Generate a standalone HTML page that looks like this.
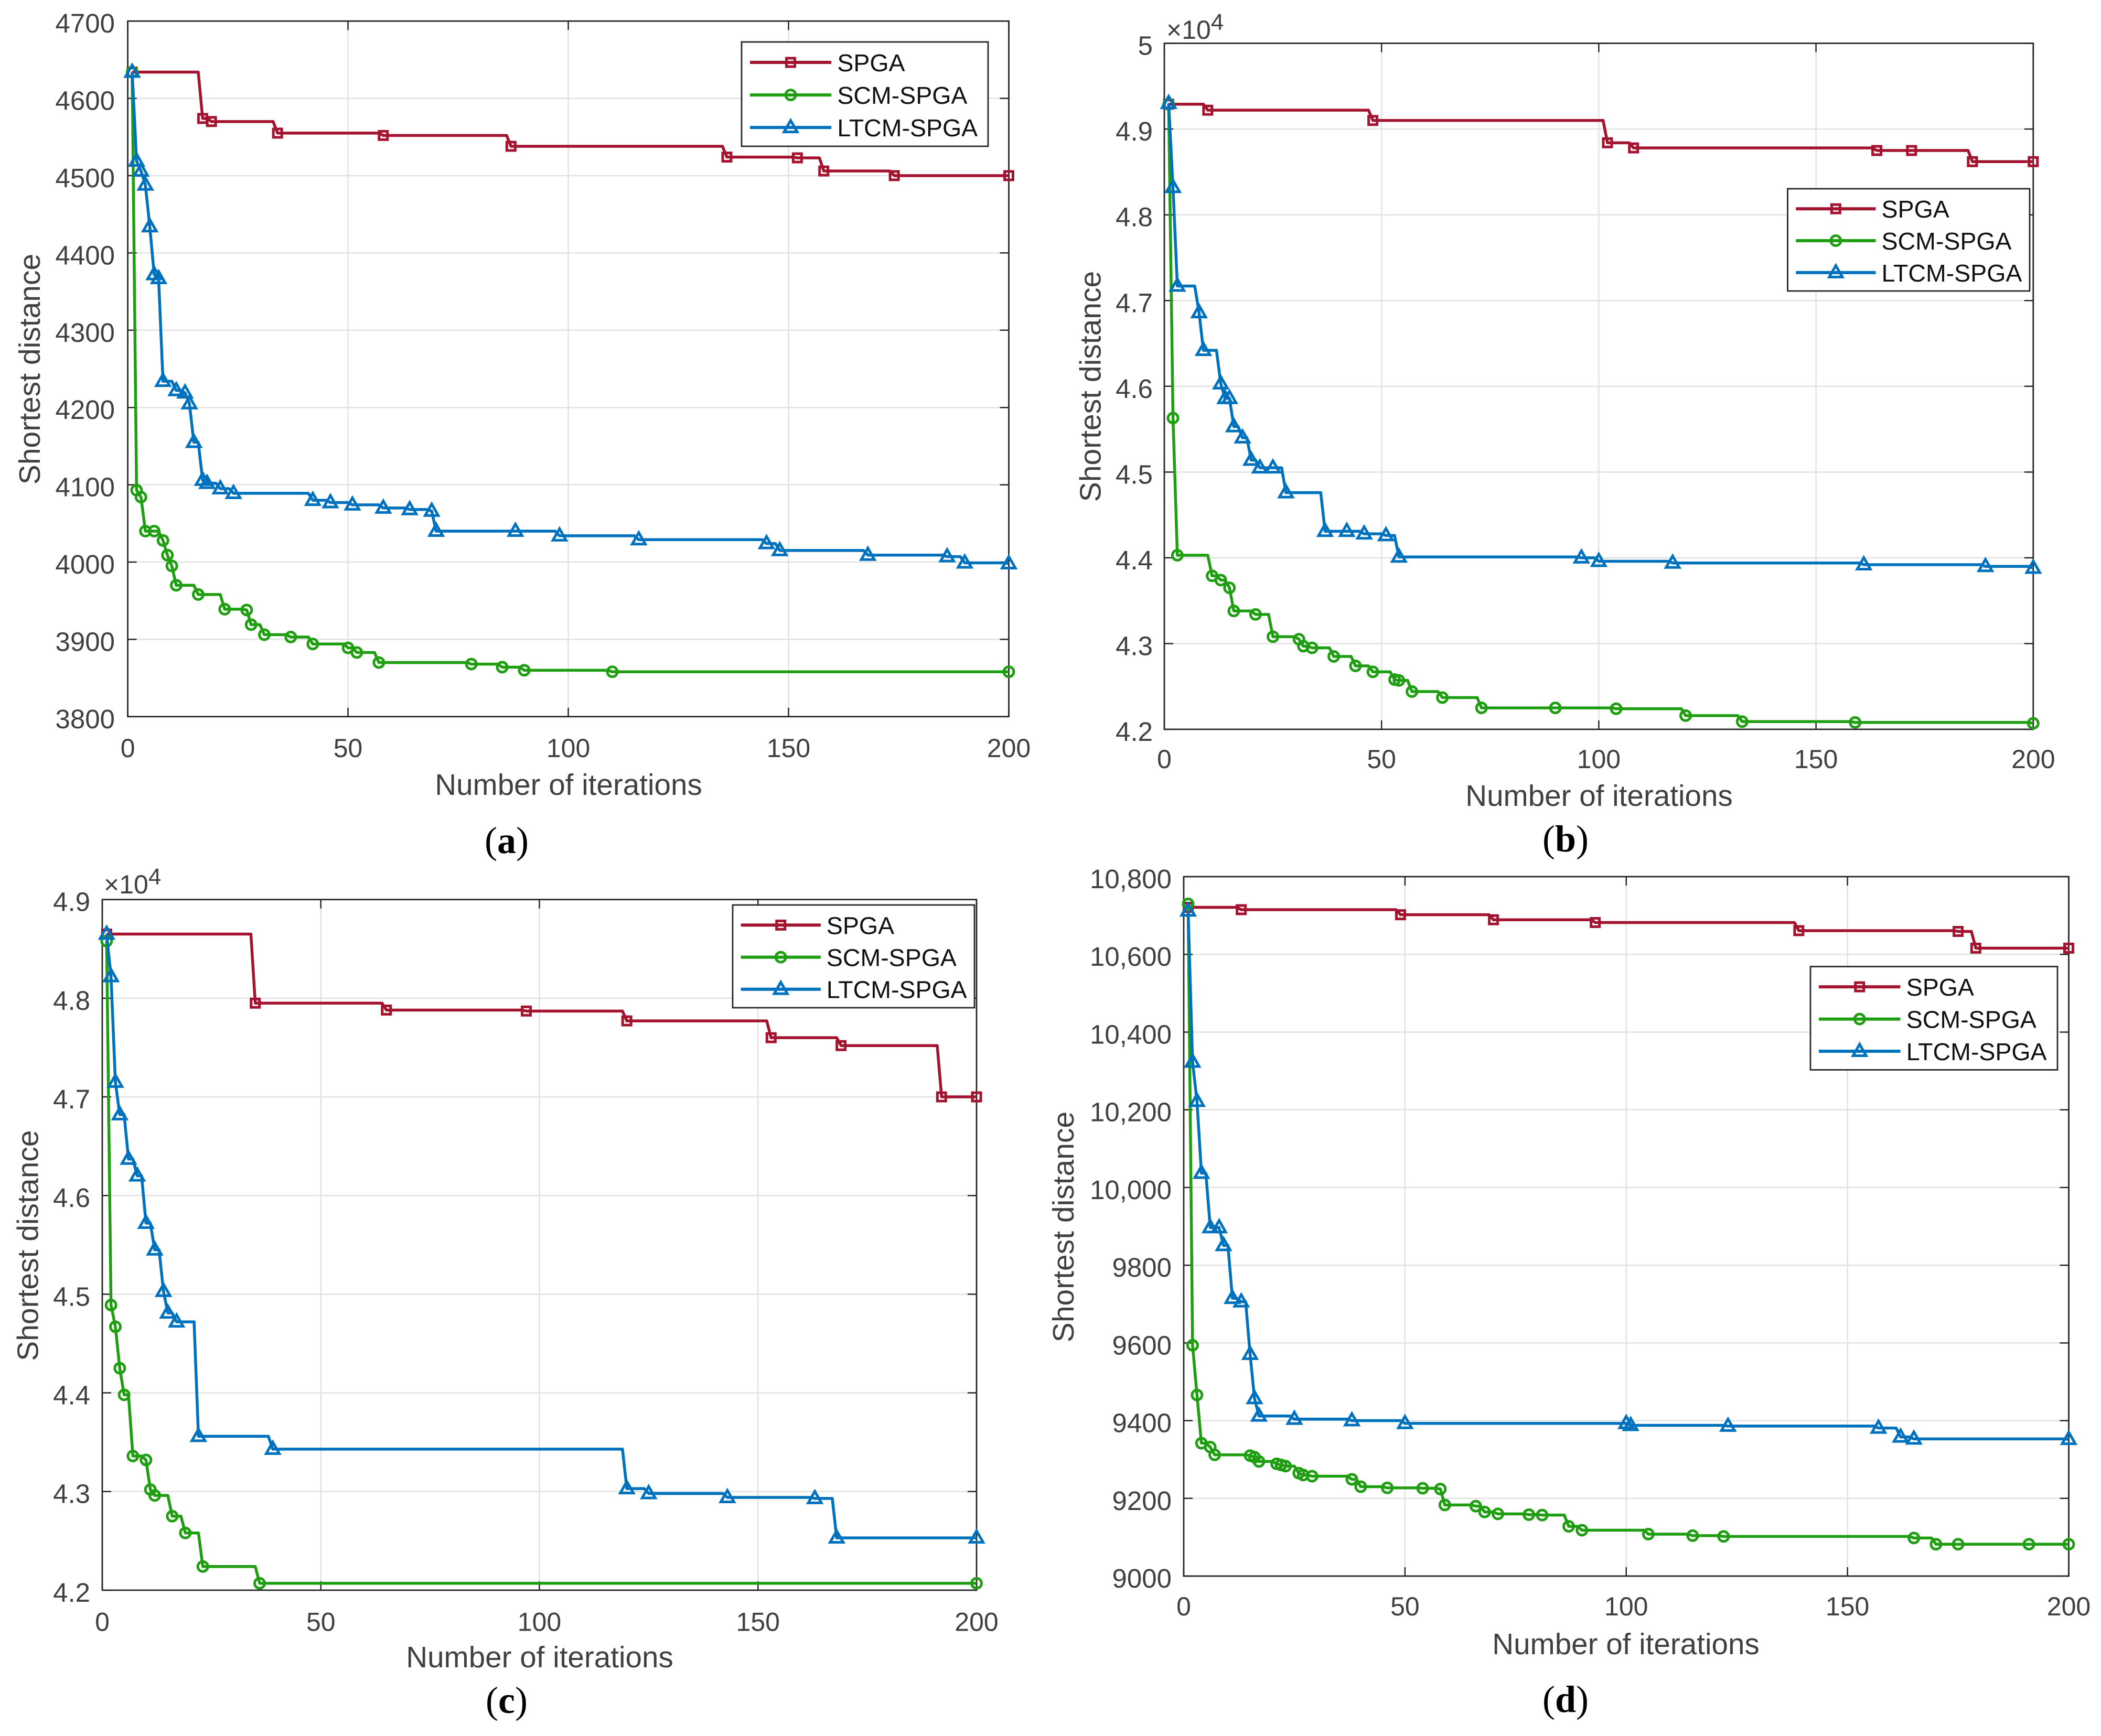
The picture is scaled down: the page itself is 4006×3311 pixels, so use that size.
<!DOCTYPE html>
<html>
<head>
<meta charset="utf-8">
<title>Convergence curves</title>
<style>
html,body{margin:0;padding:0;background:#fff;}
svg{display:block;}
text{font-family:"Liberation Sans",Arial,sans-serif;}
.cap{font-family:"Liberation Serif",serif;}
</style>
</head>
<body>
<svg id="fig" xmlns="http://www.w3.org/2000/svg" width="4006" height="3311" viewBox="0 0 4006 3311"></svg>
<script>
// ---- tick labels ----
const xTicks = [0, 50, 100, 150, 200];
const yTicksA = [3800, 3900, 4000, 4100, 4200, 4300, 4400, 4500, 4600, 4700];
const yTicksB = [4.2, 4.3, 4.4, 4.5, 4.6, 4.7, 4.8, 4.9, 5];
const yTicksC = [4.2, 4.3, 4.4, 4.5, 4.6, 4.7, 4.8, 4.9];
const yTicksD = [9000, 9200, 9400, 9600, 9800, 10000, 10200, 10400, 10600, 10800];
const seriesNames = ['SPGA', 'SCM-SPGA', 'LTCM-SPGA'];

// ---- panel (a) ----
const aSpgaX = [1, 17, 19, 34, 58, 87, 136, 152, 158, 174, 200];
const aSpgaY = [4634, 4574, 4570, 4555, 4552, 4538, 4524, 4523, 4506, 4500, 4500];
const aScmX = [1, 2, 3, 4, 6, 8, 9, 10, 11, 16, 22, 27, 28, 31, 37, 42, 50, 52, 57, 78, 85, 90, 110, 200];
const aScmY = [4634, 4093, 4084, 4040, 4040, 4028, 4009, 3995, 3970, 3958, 3939, 3938, 3919, 3906, 3903, 3894, 3889, 3883, 3870, 3868, 3864, 3860, 3858, 3858];
const aLtcmX = [1, 2, 3, 4, 5, 6, 7, 8, 11, 13, 14, 15, 17, 18, 21, 24, 42, 46, 51, 58, 64, 69, 70, 88, 98, 116, 145, 148, 168, 186, 190, 200];
const aLtcmY = [4634, 4519, 4506, 4488, 4434, 4372, 4367, 4234, 4222, 4219, 4205, 4155, 4106, 4102, 4095, 4089, 4080, 4077, 4074, 4070, 4068, 4066, 4040, 4040, 4034, 4029, 4024, 4015, 4009, 4007, 3999, 3998];

// ---- panel (b) ----
const bSpgaX = [1, 10, 48, 102, 108, 164, 172, 186, 200];
const bSpgaY = [4.929, 4.922, 4.910, 4.884, 4.878, 4.875, 4.875, 4.862, 4.862];
const bScmX = [1, 2, 3, 11, 13, 15, 16, 21, 25, 31, 32, 34, 39, 44, 48, 53, 54, 57, 64, 73, 90, 104, 120, 133, 159, 200];
const bScmY = [4.929, 4.563, 4.403, 4.379, 4.374, 4.365, 4.338, 4.334, 4.308, 4.305, 4.297, 4.295, 4.285, 4.274, 4.267, 4.258, 4.257, 4.244, 4.237, 4.225, 4.225, 4.224, 4.216, 4.209, 4.208, 4.207];
const bLtcmX = [1, 2, 3, 8, 9, 13, 14, 15, 16, 18, 20, 22, 25, 28, 37, 42, 46, 51, 54, 96, 100, 117, 161, 189, 200];
const bLtcmY = [4.93, 4.832, 4.717, 4.686, 4.642, 4.603, 4.586, 4.586, 4.553, 4.540, 4.514, 4.505, 4.505, 4.476, 4.431, 4.431, 4.428, 4.426, 4.401, 4.400, 4.396, 4.394, 4.392, 4.390, 4.388];

// ---- panel (c) ----
const cSpgaX = [1, 35, 65, 97, 120, 153, 169, 192, 200];
const cSpgaY = [4.865, 4.795, 4.788, 4.787, 4.777, 4.760, 4.752, 4.700, 4.700];
const cScmX = [1, 2, 3, 4, 5, 7, 10, 11, 12, 16, 19, 23, 36, 200];
const cScmY = [4.858, 4.489, 4.467, 4.425, 4.398, 4.336, 4.332, 4.302, 4.296, 4.275, 4.258, 4.224, 4.207, 4.207];
const cLtcmX = [1, 2, 3, 4, 6, 8, 10, 12, 14, 15, 17, 22, 39, 120, 125, 143, 163, 168, 200];
const cLtcmY = [4.865, 4.822, 4.715, 4.682, 4.637, 4.620, 4.572, 4.545, 4.503, 4.481, 4.472, 4.356, 4.343, 4.303, 4.298, 4.294, 4.293, 4.253, 4.253];

// ---- panel (d) ----
const dSpgaX = [1, 13, 49, 70, 93, 139, 175, 179, 200];
const dSpgaY = [10721, 10715, 10702, 10689, 10682, 10661, 10659, 10616, 10616];
const dScmX = [1, 2, 3, 4, 6, 7, 15, 16, 17, 21, 22, 23, 26, 27, 29, 38, 40, 46, 54, 58, 59, 66, 68, 71, 78, 81, 87, 90, 105, 115, 122, 165, 170, 175, 191, 200];
const dScmY = [10730, 9594, 9466, 9342, 9332, 9312, 9310, 9306, 9295, 9289, 9286, 9283, 9265, 9260, 9257, 9249, 9230, 9227, 9226, 9224, 9183, 9180, 9165, 9160, 9158, 9157, 9128, 9118, 9108, 9104, 9102, 9098, 9082, 9082, 9082, 9082];
const dLtcmX = [1, 2, 3, 4, 6, 8, 9, 11, 13, 15, 16, 17, 25, 38, 50, 100, 101, 123, 157, 162, 165, 200];
const dLtcmY = [10712, 10323, 10222, 10037, 9897, 9897, 9851, 9715, 9706, 9571, 9457, 9412, 9404, 9400, 9393, 9393, 9388, 9386, 9381, 9358, 9353, 9352];

// ---- layout (not data) ----
const COLORS = ['#A2142F', '#1F9E12', '#0072BD'];
const NS = 'http://www.w3.org/2000/svg';
const fig = document.getElementById('fig');

function make(tag, attrs, parent) {
  const n = document.createElementNS(NS, tag);
  for (const k in attrs) n.setAttribute(k, attrs[k]);
  parent.appendChild(n);
  return n;
}
function fmt(v, panelKey) {
  if (panelKey === 'd') return v >= 10000 ? String(v).replace(/(\d)(\d{3})$/, '$1,$2') : String(v);
  return String(v);
}
function drawMarker(kind, px, py, color, parent) {
  let m;
  if (kind === 0) {
    m = make('rect', {x: px - 8, y: py - 8, width: 16, height: 16, fill: 'none', stroke: color, 'stroke-width': 5}, parent);
  } else if (kind === 1) {
    m = make('circle', {cx: px, cy: py, r: 9.5, fill: 'none', stroke: color, 'stroke-width': 5}, parent);
  } else {
    m = make('polygon', {points: (px) + ',' + (py - 13.5) + ' ' + (px + 12.5) + ',' + (py + 8.5) + ' ' + (px - 12.5) + ',' + (py + 8.5), fill: 'none', stroke: color, 'stroke-width': 5}, parent);
  }
  return m;
}

function drawPanel(cfg) {
  const g = make('g', {}, fig);
  
  
  const yMin = cfg.yTicks[0], yMax = cfg.yTicks[cfg.yTicks.length - 1];
  const sx = v => cfg.left + (v - xTicks[0]) / (xTicks[xTicks.length - 1] - xTicks[0]) * (cfg.right - cfg.left);
  const sy = v => cfg.bottom - (v - yMin) / (yMax - yMin) * (cfg.bottom - cfg.top);

  // grid
  xTicks.slice(1, -1).forEach(t => {
    const l = make('line', {x1: sx(t), x2: sx(t), y1: cfg.top, y2: cfg.bottom, stroke: '#e2e2e2', 'stroke-width': 2.5}, g);
    
    
  });
  cfg.yTicks.slice(1, -1).forEach(t => {
    const l = make('line', {x1: cfg.left, x2: cfg.right, y1: sy(t), y2: sy(t), stroke: '#e2e2e2', 'stroke-width': 2.5}, g);
    
    
  });
  // ticks
  xTicks.forEach(t => {
    const a = make('line', {x1: sx(t), x2: sx(t), y1: cfg.bottom, y2: cfg.bottom - 17, stroke: '#262626', 'stroke-width': 2.5}, g);
    
    
    const b = make('line', {x1: sx(t), x2: sx(t), y1: cfg.top, y2: cfg.top + 17, stroke: '#262626', 'stroke-width': 2.5}, g);
    
    
    const lab = make('text', {x: sx(t), y: cfg.xTickBase, 'text-anchor': 'middle', 'font-size': 50, fill: '#404040'}, g);
    
    
    lab.textContent = String(t);
  });
  cfg.yTicks.forEach(t => {
    const a = make('line', {x1: cfg.left, x2: cfg.left + 17, y1: sy(t), y2: sy(t), stroke: '#262626', 'stroke-width': 2.5}, g);
    
    
    const b = make('line', {x1: cfg.right, x2: cfg.right - 17, y1: sy(t), y2: sy(t), stroke: '#262626', 'stroke-width': 2.5}, g);
    
    
    const lab = make('text', {x: cfg.yTickRight, y: sy(t) + 22, 'text-anchor': 'end', 'font-size': 51, fill: '#404040'}, g);
    
    
    lab.textContent = fmt(t, cfg.key);
  });
  // frame
  const frame = make('rect', {x: cfg.left, y: cfg.top, width: cfg.right - cfg.left, height: cfg.bottom - cfg.top, fill: 'none', stroke: '#262626', 'stroke-width': 2.8}, g);
  
  

  // series
  cfg.series.forEach((s, i) => {
    const sg = make('g', {}, g);
    
    
    const pts = [];
    s.x.forEach((xv, k) => {
      if (k > 0 && xv - 1 > s.x[k - 1]) pts.push(sx(xv - 1) + ',' + sy(s.y[k - 1]));
      pts.push(sx(xv) + ',' + sy(s.y[k]));
    });
    const line = make('polyline', {points: pts.join(' '), fill: 'none', stroke: COLORS[i], 'stroke-width': 5.5, 'stroke-linejoin': 'round'}, sg);
    
    
    s.x.forEach((xv, k) => {
      const m = drawMarker(i, sx(xv), sy(s.y[k]), COLORS[i], sg);
      
      
    });
  });

  // axis titles
  const xt = make('text', {x: cfg.xLabelX, y: cfg.xLabelBase, 'text-anchor': 'middle', 'font-size': 56.6, fill: '#404040'}, g);
  
  
  xt.textContent = 'Number of iterations';
  const yt = make('text', {x: 0, y: 0, 'text-anchor': 'middle', 'font-size': 57, fill: '#404040', transform: 'translate(' + cfg.yLabelX + ',' + cfg.yLabelY + ') rotate(-90)'}, g);
  
  
  yt.textContent = 'Shortest distance';

  // exponent
  if (cfg.expX) {
    const e = make('text', {x: cfg.expX, y: cfg.expY, 'font-size': 50, fill: '#404040'}, g);
    
    
    const t1 = make('tspan', {}, e);
    t1.textContent = '\u00D710';
    const t2 = make('tspan', {dy: -17, 'font-size': 44}, e);
    t2.textContent = '4';
  }

  // legend
  const lg = make('g', {}, g);
  
  
  const L = cfg.legend;
  const box = make('rect', {x: L.x, y: L.y, width: L.w, height: L.h, fill: '#fff', stroke: '#262626', 'stroke-width': 2.8}, lg);
  
  
  seriesNames.forEach((name, i) => {
    const ry = L.y + L.h * [0.196, 0.508, 0.82][i];
    const x0 = L.x + L.w * 0.034, x1 = L.x + L.w * 0.364;
    const e = make('g', {}, lg);
    
    
    make('line', {x1: x0, x2: x1, y1: ry, y2: ry, stroke: COLORS[i], 'stroke-width': 6}, e);
    drawMarker(i, (x0 + x1) / 2, ry, COLORS[i], e);
    const t = make('text', {x: L.x + L.w * 0.388, y: ry + 17, 'font-size': 46.5, fill: '#111'}, e);
    t.textContent = name;
  });

  // caption
  const cap = make('text', {x: cfg.capX, y: cfg.capBase, 'text-anchor': 'middle', 'font-size': 72, fill: '#000', class: 'cap'}, g);
  
  
  const p1 = make('tspan', {}, cap); p1.textContent = '(';
  const p2 = make('tspan', {'font-weight': 'bold'}, cap); p2.textContent = cfg.key;
  const p3 = make('tspan', {}, cap); p3.textContent = ')';
}

drawPanel({
  key: 'a', left: 243.6, right: 1923.5, top: 40.2, bottom: 1366.8, yTicks: yTicksA,
  xTickBase: 1444, yTickRight: 219, xLabelX: 1084, xLabelBase: 1516, yLabelX: 76, yLabelY: 704,
  capX: 966, capBase: 1627,
  legend: {x: 1414, y: 80, w: 470, h: 199},
  series: [{x: aSpgaX, y: aSpgaY}, {x: aScmX, y: aScmY}, {x: aLtcmX, y: aLtcmY}]
});
drawPanel({
  key: 'b', left: 2220, right: 3876.8, top: 82.6, bottom: 1391, yTicks: yTicksB,
  xTickBase: 1465, yTickRight: 2198, xLabelX: 3049, xLabelBase: 1537, yLabelX: 2098.5, yLabelY: 737,
  expX: 2224, expY: 74, capX: 2985, capBase: 1624,
  legend: {x: 3408.5, y: 360, w: 461.5, h: 195},
  series: [{x: bSpgaX, y: bSpgaY}, {x: bScmX, y: bScmY}, {x: bLtcmX, y: bLtcmY}]
});
drawPanel({
  key: 'c', left: 195, right: 1862, top: 1715.7, bottom: 3032.9, yTicks: yTicksC,
  xTickBase: 3110.7, yTickRight: 172, xLabelX: 1029, xLabelBase: 3180, yLabelX: 72.7, yLabelY: 2375.6,
  expX: 198, expY: 1704, capX: 966, capBase: 3267,
  legend: {x: 1397, y: 1726, w: 461, h: 196},
  series: [{x: cSpgaX, y: cSpgaY}, {x: cScmX, y: cScmY}, {x: cLtcmX, y: cLtcmY}]
});
drawPanel({
  key: 'd', left: 2257, right: 3944.5, top: 1672, bottom: 3006, yTicks: yTicksD,
  xTickBase: 3081, yTickRight: 2234, xLabelX: 3100, xLabelBase: 3155, yLabelX: 2047, yLabelY: 2340,
  capX: 2985, capBase: 3265,
  legend: {x: 3452, y: 1843.5, w: 471, h: 197},
  series: [{x: dSpgaX, y: dSpgaY}, {x: dScmX, y: dScmY}, {x: dLtcmX, y: dLtcmY}]
});
</script>
</body>
</html>
